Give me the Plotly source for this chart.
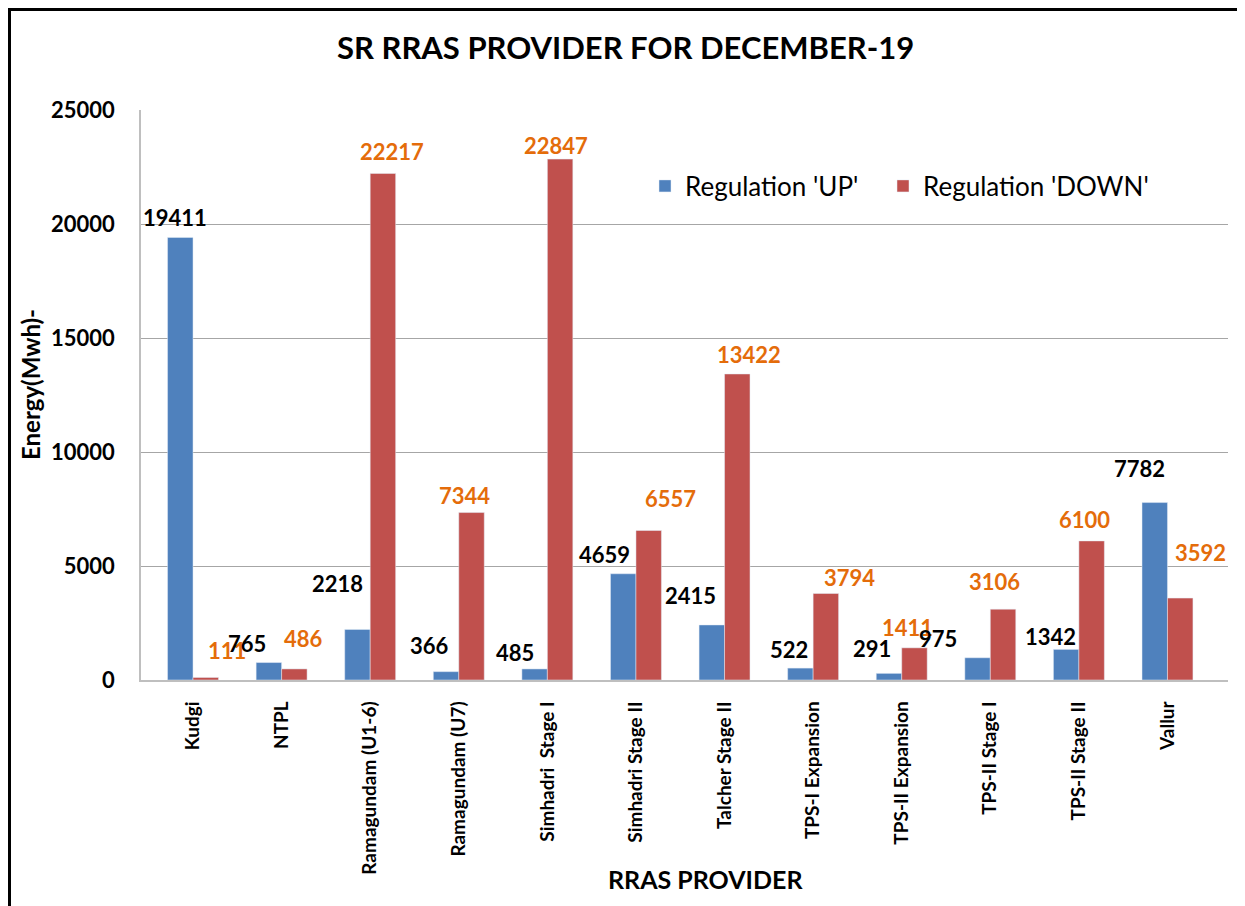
# SR RRAS provider chart, December-19
import plotly.graph_objects as go

providers = [
    "Kudgi",
    "NTPL",
    "Ramagundam (U1-6)",
    "Ramagundam (U7)",
    "Simhadri  Stage I",
    "Simhadri Stage II",
    "Talcher Stage II",
    "TPS-I Expansion",
    "TPS-II Expansion",
    "TPS-II Stage I",
    "TPS-II Stage II",
    "Vallur",
]
reg_up = [19411, 765, 2218, 366, 485, 4659, 2415, 522, 291, 975, 1342, 7782]
reg_down = [111, 486, 22217, 7344, 22847, 6557, 13422, 3794, 1411, 3106, 6100, 3592]

# label nudges (pixels) - the labels in the original were dragged around a bit
up_dx = [-5, -22, -20, -16, -19, -18, -21, -11, -17, -39, -15, -15]
up_dy = [20, 19, 46, 26, 16, 19, 29, 19, 25, 19, 13, 34]
down_dx = [21, 9, 9, -7, -4, 22, 11, 23, -7, -9, -7, 20]
down_dy = [27, 30, 22, 17, 14, 32, 19, 16, 20, 28, 21, 46]

OFF = 8  # page body margin
W, H = 1245 - OFF, 906 - OFF
ml, mt = 141 - OFF, 110 - OFF
mr = W - (1228 - OFF)
mb = H - (680 - OFF)
pw, ph = W - ml - mr, H - mt - mb
font = "Lato, 'Open Sans', sans-serif"
blue, red, orange = "#4F81BD", "#C0504D", "#E46C0A"


def px_x(p):
    # screen pixel -> paper coords
    return (p - OFF - ml) / pw


def px_y(p):
    return (H - mb - (p - OFF)) / ph


fig = go.Figure()
fig.add_trace(go.Bar(x=providers, y=reg_up, name="Regulation 'UP'", marker_color=blue,
                     legend="legend"))
fig.add_trace(go.Bar(x=providers, y=reg_down, name="Regulation 'DOWN'", marker_color=red,
                     legend="legend2"))

bar_px = 0.575 * pw / len(providers) / 2
ann = []
for i, p in enumerate(providers):
    ann.append(dict(x=p, y=reg_up[i], text=f"<b>{reg_up[i]}</b>", showarrow=False,
                    xanchor="center", yanchor="middle",
                    xshift=-bar_px / 2 + up_dx[i], yshift=up_dy[i],
                    font=dict(size=22, color="black", family=font)))
    ann.append(dict(x=p, y=reg_down[i], text=f"<b>{reg_down[i]}</b>", showarrow=False,
                    xanchor="center", yanchor="middle",
                    xshift=bar_px / 2 + down_dx[i], yshift=down_dy[i],
                    font=dict(size=22, color=orange, family=font)))

# titles
ann.append(dict(xref="paper", yref="paper", x=px_x(625), y=px_y(47), showarrow=False,
                xanchor="center", yanchor="middle",
                text="<b>SR RRAS PROVIDER FOR DECEMBER-19</b>",
                font=dict(size=31, color="black", family=font)))
ann.append(dict(xref="paper", yref="paper", x=px_x(705), y=px_y(879), showarrow=False,
                xanchor="center", yanchor="middle",
                text="<b>RRAS PROVIDER</b>", font=dict(size=25, color="black", family=font)))
ann.append(dict(xref="paper", yref="paper", x=px_x(31), y=px_y(385), showarrow=False,
                xanchor="center", yanchor="middle",
                text="<b>Energy(Mwh)-</b>", textangle=-90,
                font=dict(size=24, color="black", family=font)))

leg = dict(orientation="h", xanchor="left", yanchor="middle", y=px_y(186),
           font=dict(size=26, family=font), itemwidth=30, bgcolor="rgba(0,0,0,0)")

fig.update_layout(
    width=W, height=H,
    margin=dict(l=ml, r=mr, t=mt, b=mb),
    paper_bgcolor="white", plot_bgcolor="white",
    barmode="group", bargap=0.425, bargroupgap=0,
    font=dict(family=font, color="black"),
    showlegend=True,
    legend=dict(leg, x=px_x(645)),
    legend2=dict(leg, x=px_x(883)),
    annotations=ann,
    shapes=[dict(type="rect", xref="paper", yref="paper",
                 x0=px_x(OFF + 1.5), x1=px_x(1260), y0=px_y(920), y1=px_y(OFF + 1.5),
                 line=dict(color="black", width=3))],
)
fig.update_xaxes(showline=True, linecolor="#BFBFBF", linewidth=1.5, showgrid=False,
                 tickangle=-90, tickfont=dict(size=19, family=font),
                 ticks="", ticklabelstandoff=12, tickprefix="<b>", ticksuffix="</b>")
fig.update_yaxes(range=[0, 25000], dtick=5000, showline=True, linecolor="#BFBFBF", linewidth=1.5,
                 showgrid=True, gridcolor="#A6A6A6", gridwidth=1, zeroline=False,
                 tickfont=dict(size=22, family=font), ticklabelstandoff=20,
                 tickprefix="<b>", ticksuffix="</b>", tickformat="d")

fig.write_html("out.html")
